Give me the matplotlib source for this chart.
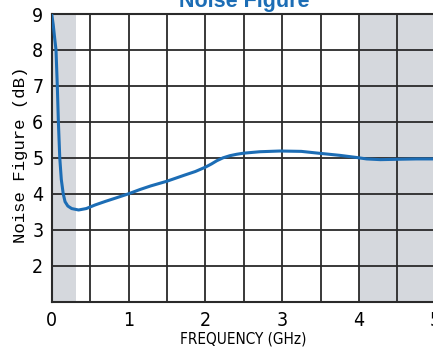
import matplotlib
matplotlib.use("Agg")
import matplotlib.pyplot as plt

# Data
freq_ghz = [0.0, 0.02, 0.04, 0.056, 0.073, 0.087, 0.105, 0.125, 0.15, 0.174, 0.21, 0.26, 0.35,
            0.45, 0.565, 0.70, 0.83, 1.0, 1.15, 1.29, 1.5, 1.73, 1.87, 2.0, 2.08, 2.15, 2.23,
            2.32, 2.41, 2.5, 2.71, 2.97, 3.25, 3.47, 3.75, 3.97, 4.1, 4.28, 4.49, 4.75, 5.0]
noise_figure_db = [9.0, 8.7, 8.3, 8.0, 7.0, 6.0, 5.0, 4.4, 4.0, 3.78, 3.66, 3.59, 3.55,
                   3.59, 3.69, 3.79, 3.88, 4.0, 4.12, 4.22, 4.35, 4.52, 4.62, 4.74, 4.83, 4.92, 5.0,
                   5.06, 5.1, 5.13, 5.17, 5.19, 5.18, 5.13, 5.07, 5.01, 4.97, 4.95, 4.96, 4.97, 4.97]
shade_regions = [(0.0, 0.31), (4.0, 5.0)]
x_ticks = [0, 1, 2, 3, 4, 5]
y_ticks = [2, 3, 4, 5, 6, 7, 8, 9]

narrow = ['DejaVu Sans']

fig = plt.figure(figsize=(4.33, 3.51), dpi=100)
W, H = 433, 351
left_px, right_px, top_px, bot_px = 51.7, 435.7, 14.0, 301.7
ax = fig.add_axes([left_px / W, 1 - bot_px / H, (right_px - left_px) / W, (bot_px - top_px) / H])

for a, b in shade_regions:
    ax.axvspan(a, b, color='#d5d8dd', zorder=0, lw=0)

ax.set_xlim(0, 5)
ax.set_ylim(1, 9)
ax.set_xticks(x_ticks)
ax.set_yticks(y_ticks)
ax.set_xticks([i * 0.5 for i in range(11)], minor=True)
ax.set_yticks(range(1, 10), minor=True)
ax.grid(True, which='both', color='#2a2a2a', lw=1.3, zorder=1)
ax.tick_params(which='both', length=0)
ax.tick_params(axis='x', pad=7)
ax.tick_params(axis='y', pad=6)
for lab in ax.get_xticklabels() + ax.get_yticklabels():
    lab.set_family(narrow)
    lab.set_stretch('condensed')
    lab.set_fontsize(14)
for s in ax.spines.values():
    s.set_color('#2a2a2a')
    s.set_linewidth(1.5)

ax.plot(freq_ghz, noise_figure_db, color='#1c6db5', lw=2.2, zorder=3, solid_capstyle='round')

ax.set_xlabel('FREQUENCY (GHz)', family=narrow, stretch='condensed', fontsize=11, labelpad=1)
ax.set_ylabel('Noise Figure (dB)', family=['Liberation Mono', 'DejaVu Sans Mono'], fontsize=12.5, labelpad=3)
ax.yaxis.label.set_y(0.51)
fig.text(244 / W, 1 - 6.5 / H, 'Noise Figure', color='#1c6db5', fontsize=15.5, fontweight='bold',
         family=['Liberation Sans', 'DejaVu Sans'], ha='center', va='baseline')

fig.savefig('out.png', dpi=100)
